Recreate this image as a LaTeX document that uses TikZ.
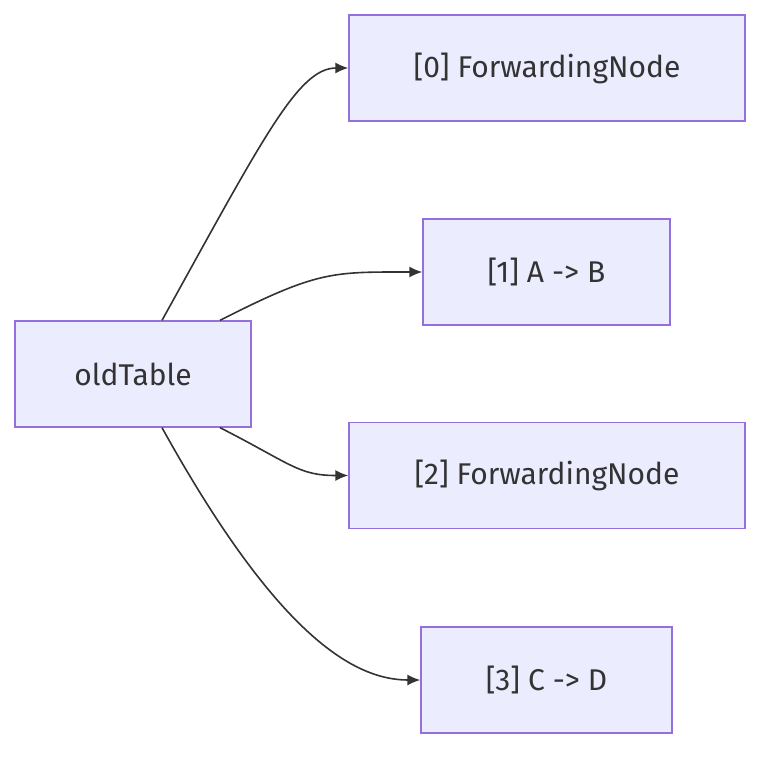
\documentclass[tikz,border=0pt]{standalone}
\usepackage{fontspec}
\setmainfont{Fira Sans}
\usetikzlibrary{arrows.meta}
\definecolor{boxfill}{HTML}{ECECFF}
\definecolor{boxline}{HTML}{9370DB}
\definecolor{ink}{HTML}{333333}
\tikzset{
	entry/.style={draw=boxline, fill=boxfill, line width=1.3pt, text=ink,
		font=\fontsize{30}{36}\selectfont, minimum height=106pt, inner sep=0pt},
	link/.style={draw=ink, line width=1.6pt, -{Latex[length=13pt,width=11pt]}}
}
\begin{document}
\begin{tikzpicture}[x=1pt, y=-1pt]
				\useasboundingbox (0,0) rectangle (776,764);

				\node[entry, minimum width=236pt] (old)   at (133,374)   {oldTable};
				\node[entry, minimum width=396pt] (fwdA)  at (547,68)    {[0] ForwardingNode};
				\node[entry, minimum width=247pt] (ab)    at (546.5,272) {[1] A -> B};
				\node[entry, minimum width=396pt] (fwdB)  at (547,475.5) {[2] ForwardingNode};
				\node[entry, minimum width=251pt] (cd)    at (546.5,680) {[3] C -> D};

				% y axis points down, so upward angles are negative
				\draw[link] ([xshift=29pt]old.north) .. controls +(-61:210) and +(-50,0) .. (fwdA.west);
				\draw[link] ([xshift=87pt]old.north) .. controls +(-27:110) and +(-90,0) .. (ab.west);
				\draw[link] ([xshift=87pt]old.south) .. controls +(27:80) and +(-50,0) .. (fwdB.west);
				\draw[link] ([xshift=29pt]old.south) .. controls +(61:230) and +(-70,0) .. (cd.west);
\end{tikzpicture}
\end{document}
